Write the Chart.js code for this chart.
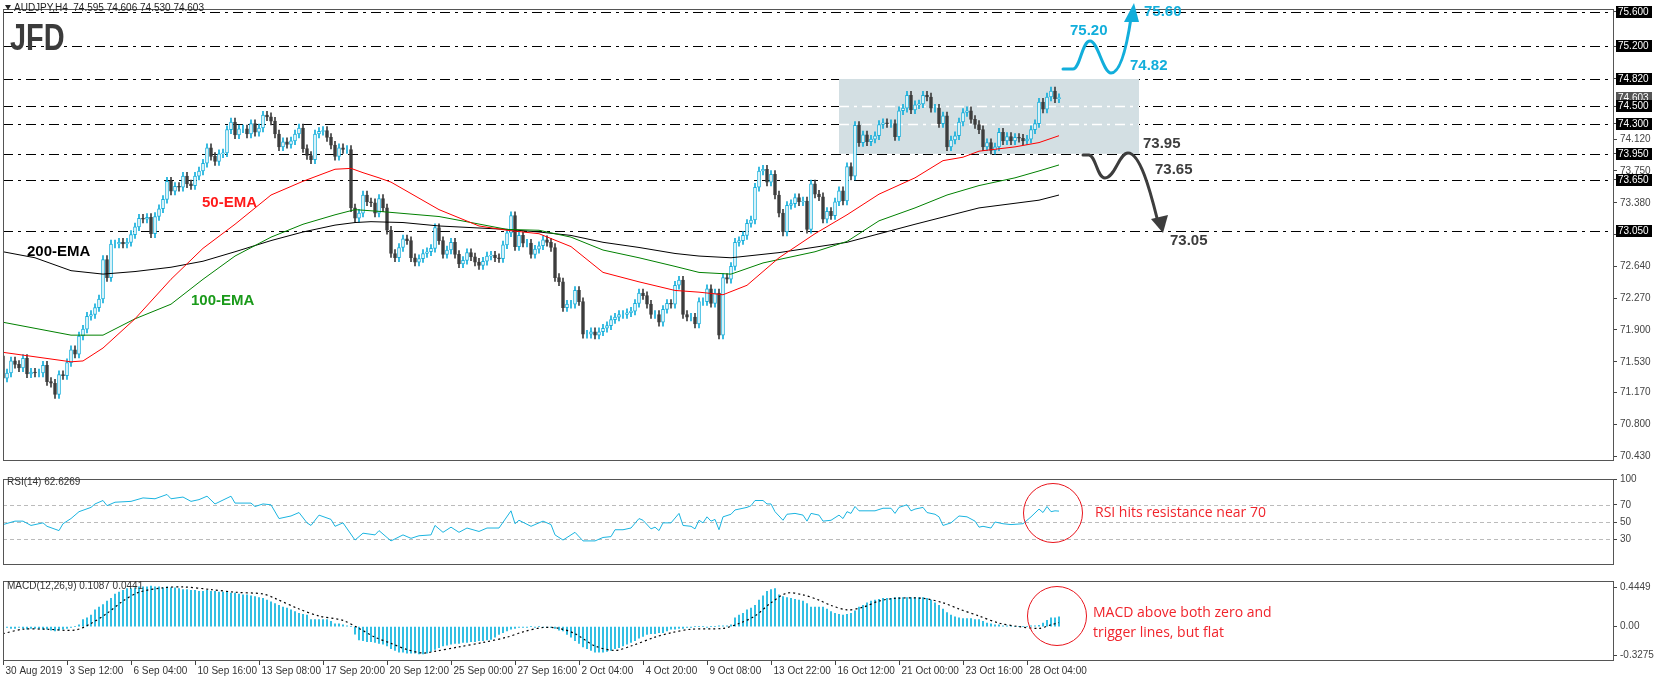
<!DOCTYPE html>
<html><head><meta charset="utf-8">
<style>body{margin:0;background:#fff;overflow:hidden;width:1655px;height:682px}canvas{position:absolute;left:0}</style>
<script src="https://cdn.jsdelivr.net/npm/chart.js@4/dist/chart.umd.min.js"></script>
</head><body>
<canvas id="main" width="1655" height="470" style="top:0"></canvas>
<canvas id="rsi" width="1655" height="104" style="top:470px"></canvas>
<canvas id="macd" width="1655" height="110" style="top:572px"></canvas>
<script>
// ---------- DATA ----------
const closes = [
71.34,71.40,71.54,71.50,71.46,71.57,71.39,71.41,71.40,71.40,
71.49,71.30,71.28,71.15,71.38,71.37,71.52,71.67,71.62,71.83,
71.91,72.06,72.08,72.16,72.26,72.72,72.51,72.90,72.90,72.92,
72.90,72.92,73.01,73.10,73.20,73.19,73.21,73.02,73.22,73.31,
73.42,73.63,73.515,73.57,73.56,73.69,73.60,73.58,73.69,73.75,
73.84,74.02,73.92,73.86,73.95,73.96,74.23,74.32,74.17,74.24,
74.24,74.18,74.30,74.20,74.25,74.40,74.38,74.33,74.18,74.03,
74.09,74.06,74.10,74.18,74.25,74.01,73.93,73.88,74.18,74.21,
74.22,74.14,74.05,73.92,74.02,74.00,74.00,73.32,73.20,73.26,
73.47,73.39,73.38,73.26,73.43,73.32,73.06,72.79,72.74,72.86,
72.96,72.94,72.74,72.69,72.73,72.79,72.81,72.85,73.09,72.94,
72.78,72.83,72.92,72.78,72.67,72.71,72.80,72.75,72.69,72.65,
72.70,72.76,72.77,72.74,72.73,72.89,73.03,73.23,72.87,73.00,
72.91,72.91,72.78,72.84,72.88,72.95,72.92,72.86,72.51,72.46,
72.16,72.20,72.20,72.36,72.23,71.85,71.85,71.88,71.84,71.88,
71.92,71.95,72.02,72.05,72.08,72.08,72.10,72.12,72.21,72.33,
72.30,72.20,72.08,72.08,71.99,72.14,72.21,72.20,72.42,72.48,
72.08,72.05,72.05,71.97,72.23,72.23,72.38,72.21,72.33,71.84,
72.51,72.49,72.64,72.92,72.94,73.00,73.14,73.18,73.56,73.75,
73.77,73.62,73.71,73.47,73.26,73.04,73.35,73.37,73.44,73.39,
73.40,73.07,73.60,73.48,73.45,73.19,73.28,73.23,73.39,73.52,
73.40,73.80,73.69,74.28,74.08,74.17,74.09,74.12,74.16,74.29,
74.31,74.30,74.30,74.15,74.45,74.48,74.63,74.46,74.52,74.53,
74.63,74.61,74.48,74.48,74.30,74.39,74.03,74.11,74.16,74.32,
74.43,74.45,74.35,74.29,74.23,74.03,74.08,73.99,74.03,74.20,
74.10,74.15,74.10,74.14,74.13,74.10,74.12,74.23,74.30,74.55,
74.47,74.61,74.68,74.59,74.603];
const firstOpen = 71.60;

const ema50Bars = [0,17,20,25,33,42,50,58,67,75,83,87,90,94,97,109,119,126,134,142,150,159,168,174,180,186,194,203,211,219,228,235,240,244,253,259,264];
const ema50Vals = [71.64,71.53,71.54,71.69,72.03,72.49,72.85,73.13,73.47,73.63,73.77,73.78,73.73,73.67,73.62,73.30,73.11,73.06,73.02,72.87,72.57,72.46,72.36,72.34,72.31,72.42,72.74,73.02,73.24,73.48,73.67,73.87,73.91,73.98,74.03,74.08,74.16];
const ema100Bars = [0,17,25,33,42,50,58,67,75,83,88,94,109,117,126,134,142,150,159,168,174,182,190,203,211,219,228,236,244,253,259,264];
const ema100Vals = [71.99,71.84,71.84,72.03,72.20,72.49,72.76,72.98,73.13,73.24,73.30,73.28,73.22,73.15,73.07,73.06,72.98,72.83,72.74,72.64,72.57,72.55,72.68,72.81,72.93,73.17,73.32,73.47,73.58,73.67,73.75,73.82];
const ema200Bars = [0,8,17,25,33,42,50,58,67,75,83,88,92,100,109,126,134,142,150,159,168,174,182,194,211,228,244,259,264];
const ema200Vals = [72.81,72.74,72.59,72.55,72.58,72.63,72.70,72.81,72.94,73.04,73.12,73.15,73.16,73.15,73.11,73.07,73.04,73.00,72.92,72.86,72.79,72.76,72.74,72.80,72.92,73.13,73.32,73.41,73.47];

const rsiBars = [0,3,5,7,10,11,14,15,17,19,22,23,25,26,28,32,35,38,41,42,45,47,49,51,53,57,58,62,63,65,67,69,72,74,76,77,79,82,83,85,88,90,93,94,97,100,102,104,107,108,110,112,114,116,119,121,124,127,128,129,132,135,137,138,140,143,145,148,150,152,153,155,157,159,160,162,163,164,165,167,169,170,172,173,174,175,176,177,178,179,180,182,183,186,187,188,190,191,192,193,195,196,198,200,201,202,204,205,207,209,210,211,212,213,214,216,218,220,222,223,224,226,227,228,230,231,233,234,235,237,239,241,243,244,245,247,248,250,252,255,257,259,260,261,262,263,264];
const rsiVals = [47,51,51,46,49,45,40,48,54,62,67,71,75,69,73,74,78,77,82,77,79,74,76,80,71,80,72,72,68,71,70,54,57,61,49,46,58,53,45,49,29,37,35,40,28,35,31,34,35,46,38,44,38,43,39,43,43,63,48,52,45,51,47,35,29,38,28,28,32,33,41,41,43,54,52,42,44,40,49,49,60,46,45,42,52,49,56,51,53,41,56,59,64,67,69,75,75,71,71,62,52,59,60,58,51,60,58,51,52,58,54,62,60,68,63,63,63,66,66,60,67,70,63,65,67,61,59,56,46,49,57,56,51,44,45,43,50,48,47,48,56,65,61,68,62,63,62.63];

const macdHist = [
-0.02,-0.01,-0.02,-0.02,-0.01,-0.02,-0.03,-0.02,-0.02,-0.02,-0.03,-0.03,-0.04,-0.05,-0.04,-0.03,-0.02,-0.01,0.0,
0.02,0.08,0.10,0.13,0.19,0.22,0.25,0.29,0.32,0.37,0.39,0.41,0.43,0.43,0.44,
0.45,0.45,0.45,0.46,0.45,0.45,0.44,0.45,0.44,0.44,0.43,0.42,0.42,0.41,
0.41,0.40,0.40,0.41,0.40,0.40,0.39,0.39,0.39,0.38,0.38,0.37,0.36,
0.36,0.35,0.34,0.33,0.32,0.30,0.28,0.26,0.24,0.22,0.21,0.19,0.17,0.15,0.14,
0.13,0.08,0.08,0.08,0.08,0.08,0.06,0.03,0.03,0.02,0.01,0.0,
-0.085,-0.15,-0.16,-0.17,-0.17,-0.18,-0.19,-0.2,-0.22,-0.25,-0.27,-0.29,
-0.29,-0.30,-0.30,-0.30,-0.31,-0.31,-0.30,-0.28,-0.26,-0.24,-0.22,-0.21,
-0.20,-0.19,-0.19,-0.18,-0.18,-0.17,-0.17,-0.16,-0.16,-0.15,-0.145,-0.12,-0.09,
-0.07,-0.05,-0.03,-0.02,-0.01,-0.01,-0.01,0.0,-0.01,0.0,-0.01,-0.01,-0.01,-0.02,-0.04,
-0.05,-0.09,-0.12,-0.16,-0.19,-0.23,-0.25,-0.27,-0.29,-0.29,-0.29,-0.28,-0.27,-0.25,-0.24,
-0.22,-0.2,-0.18,-0.16,-0.13,-0.11,-0.09,-0.08,-0.08,-0.07,-0.07,-0.05,-0.03,-0.03,-0.02,
-0.02,-0.01,-0.01,0.0,0.0,0.0,-0.01,0.0,0.0,0.01,0.01,0.01,0.02,0.10,0.13,
0.15,0.19,0.21,0.24,0.30,0.35,0.40,0.42,0.43,0.36,0.34,0.33,0.32,0.31,0.30,
0.29,0.26,0.22,0.22,0.22,0.22,0.20,0.17,0.15,0.14,0.13,0.14,0.15,0.18,0.22,
0.24,0.27,0.29,0.30,0.31,0.32,0.32,0.32,0.33,0.33,0.33,0.33,0.33,0.33,0.33,
0.33,0.32,0.30,0.27,0.24,0.20,0.16,0.13,0.11,0.10,0.09,0.09,0.09,0.08,0.08,
0.06,0.04,0.03,0.02,0.02,0.01,0.01,0.01,0.0,0.0,0.0,0.0,0.01,0.01,0.015,
0.04,0.07,0.10,0.10,0.11];
const signalBars = [0,5,11,18,22,26,30,34,40,45,52,58,65,68,74,79,85,89,93,97,101,105,108,114,120,126,130,135,139,143,148,153,157,163,167,172,180,184,188,192,196,200,204,207,211,215,219,223,230,235,239,244,249,254,259,262,264];
const signalVals = [-0.08,-0.03,-0.03,-0.04,0.035,0.15,0.29,0.39,0.44,0.45,0.42,0.39,0.37,0.32,0.20,0.12,0.07,-0.02,-0.12,-0.19,-0.26,-0.30,-0.28,-0.23,-0.18,-0.12,-0.06,-0.01,-0.02,-0.08,-0.22,-0.27,-0.22,-0.12,-0.07,-0.03,-0.02,0.035,0.12,0.27,0.38,0.36,0.30,0.24,0.19,0.22,0.29,0.32,0.32,0.27,0.20,0.12,0.04,0.0,-0.02,0.02,0.045];

const priceTicks = [75.6,75.2,74.82,74.5,74.3,74.12,73.95,73.75,73.65,73.38,73.01,72.64,72.27,71.90,71.53,71.17,70.80,70.43];
const levels = [75.6,75.2,74.82,74.5,74.3,73.95,73.65,73.05];
const lastPrice = 74.603;
const rsiTicks = [100,70,50,30];
const rsiGuides = [70,50,30];
const macdTicks = [0.4449,0,-0.3275];
const macdTickLabels = ['0.4449','0.00','-0.3275'];
const dateBars = [0,16,32,48,64,80,96,112,128,144,160,176,192,208,224,240,256];
const dateLabels = ['30 Aug 2019','3 Sep 12:00','6 Sep 04:00','10 Sep 16:00','13 Sep 08:00','17 Sep 20:00','20 Sep 12:00','25 Sep 00:00','27 Sep 16:00','2 Oct 04:00','4 Oct 20:00','9 Oct 08:00','13 Oct 22:00','16 Oct 12:00','21 Oct 00:00','23 Oct 16:00','28 Oct 04:00'];
const boxRange = {b0:209, b1:284, lo:73.95, hi:74.82};

// ---------- HELPERS ----------
const XMIN=0, XMAX=402.75;
const CYAN='#12aedb', DARK='#3d3d3d';
const FONT='"Liberation Sans", sans-serif';
const opens = closes.map((c,i)=> i===0 ? firstOpen : closes[i-1]);
const isBull = closes.map((c,i)=> c>=opens[i]);
const WICK = 0.045;
const pts = (bs,vs)=> bs.map((b,i)=>({x:b,y:vs[i]}));
const xScale = {type:'linear',min:XMIN,max:XMAX,display:false,offset:false};
const base = {responsive:false,animation:false,events:[],plugins:{legend:{display:false},tooltip:{enabled:false}}};
function rightAxis(min,max,ticks,fmt){
  return {position:'right',min,max,
    afterFit:s=>{s.width=41;},
    afterBuildTicks:s=>{s.ticks=ticks.map(v=>({value:v}));},
    ticks:{autoSkip:false,font:{family:FONT,size:10},color:'#444',padding:3,callback:fmt},
    grid:{drawOnChartArea:false,tickLength:3,color:'#444'},border:{display:false}};
}
function frame(ctx,ca){ctx.save();ctx.strokeStyle='#555';ctx.lineWidth=1;ctx.strokeRect(ca.left+0.5,ca.top+0.5,ca.right-ca.left-1,ca.bottom-ca.top-1);ctx.restore();}

// ---------- MAIN ----------
const mainPlugin = {id:'mainp',
  beforeDatasetsDraw(chart){
    const {ctx,chartArea:ca,scales:{x,y}}=chart;
    ctx.save();
    ctx.lineWidth=1;ctx.setLineDash([10,5,3,5]);ctx.strokeStyle='#000';
    levels.forEach(v=>{const py=Math.round(y.getPixelForValue(v))+0.5;ctx.beginPath();ctx.moveTo(ca.left,py);ctx.lineTo(ca.right,py);ctx.stroke();});
    ctx.setLineDash([]);
    const bx0=x.getPixelForValue(boxRange.b0), bx1=x.getPixelForValue(boxRange.b1);
    const by0=y.getPixelForValue(boxRange.hi), by1=y.getPixelForValue(boxRange.lo);
    ctx.fillStyle='#d3dfe3';ctx.fillRect(bx0,by0,bx1-bx0,by1-by0);
    ctx.strokeStyle='#fff';ctx.lineWidth=1.5;ctx.setLineDash([10,5,3,5]);
    levels.filter(v=>v>boxRange.lo&&v<boxRange.hi).forEach(v=>{const py=Math.round(y.getPixelForValue(v))+0.5;ctx.beginPath();ctx.moveTo(bx0,py);ctx.lineTo(bx1,py);ctx.stroke();});
    ctx.restore();
  },
  afterDraw(chart){
    const {ctx,chartArea:ca,scales:{y}}=chart;
    frame(ctx,ca);
    ctx.save();
    ctx.font='10px '+FONT;ctx.textBaseline='middle';ctx.textAlign='left';
    const boxLbl=(v,bg)=>{const py=Math.round(y.getPixelForValue(v));ctx.fillStyle=bg;ctx.fillRect(ca.right+2,py-6,36,12);ctx.fillStyle='#fff';ctx.fillText(v.toFixed(3),ca.right+4,py+0.5);};
    boxLbl(lastPrice,'#555');
    levels.forEach(v=>boxLbl(v,'#000'));
    ctx.fillStyle='#222';ctx.font='10px '+FONT;ctx.fillText('AUDJPY,H4  74.595 74.606 74.530 74.603',14,8);
    ctx.beginPath();ctx.moveTo(5,5);ctx.lineTo(11,5);ctx.lineTo(8,10);ctx.closePath();ctx.fill();
    ctx.save();ctx.translate(10,50);ctx.scale(0.78,1);ctx.fillStyle='#3b3b3b';ctx.font='bold 37px "Liberation Sans", sans-serif';ctx.textBaseline='alphabetic';ctx.fillText('JFD',0,0);ctx.restore();
    ctx.font='bold 15px "Liberation Sans", sans-serif';
    ctx.fillStyle='#000';ctx.fillText('200-EMA',27,252);
    ctx.fillStyle='#ff1a1a';ctx.fillText('50-EMA',202,203);
    ctx.fillStyle='#1a9a1a';ctx.fillText('100-EMA',191,301);
    ctx.fillStyle=CYAN;ctx.fillText('75.20',1070,31);ctx.fillText('75.60',1144,12);ctx.fillText('74.82',1130,66);
    ctx.fillStyle=DARK;ctx.fillText('73.95',1143,144);ctx.fillText('73.65',1155,170);ctx.fillText('73.05',1170,241);
    ctx.lineWidth=3;ctx.lineCap='round';ctx.strokeStyle=CYAN;ctx.fillStyle=CYAN;
    ctx.beginPath();ctx.moveTo(1063,69);ctx.lineTo(1073,69);
    ctx.bezierCurveTo(1080,69,1082,41,1090,41);
    ctx.bezierCurveTo(1098,41,1103,73,1111,73);
    ctx.bezierCurveTo(1121,73,1127,45,1131,18);ctx.stroke();
    ctx.beginPath();ctx.moveTo(1134,3);ctx.lineTo(1124,22);ctx.lineTo(1139,22);ctx.closePath();ctx.fill();
    ctx.strokeStyle=DARK;ctx.fillStyle=DARK;
    ctx.beginPath();ctx.moveTo(1083,155);ctx.lineTo(1089,155);
    ctx.bezierCurveTo(1096,156,1097,178,1105,178);
    ctx.bezierCurveTo(1115,178,1119,153,1128,153);
    ctx.bezierCurveTo(1140,153,1150,190,1157,218);ctx.stroke();
    ctx.beginPath();ctx.moveTo(1163,233);ctx.lineTo(1151,219);ctx.lineTo(1168,215);ctx.closePath();ctx.fill();
    ctx.restore();
  }};

new Chart(document.getElementById('main'),{
  type:'bar',
  data:{datasets:[
    {type:'line',data:pts(ema50Bars,ema50Vals),borderColor:'#ff0000',borderWidth:1,pointRadius:0,tension:0},
    {type:'line',data:pts(ema100Bars,ema100Vals),borderColor:'#008000',borderWidth:1,pointRadius:0,tension:0},
    {type:'line',data:pts(ema200Bars,ema200Vals),borderColor:'#000',borderWidth:1,pointRadius:0,tension:0},
    {data:closes.map((c,i)=>({x:i,y:[opens[i],c]})),grouped:false,barThickness:3,borderWidth:1,borderSkipped:false,
      backgroundColor:isBull.map(b=>b?'#fff':DARK),borderColor:isBull.map(b=>b?CYAN:DARK)},
    {data:closes.map((c,i)=>({x:i,y:[Math.min(c,opens[i])-WICK,Math.max(c,opens[i])+WICK]})),grouped:false,barThickness:1,
      backgroundColor:isBull.map(b=>b?CYAN:DARK)}
  ]},
  options:{...base,layout:{padding:{left:3,top:0,bottom:1,right:0}},
    scales:{x:xScale,y:rightAxis(70.376,75.634,priceTicks,v=>v.toFixed(3))}},
  plugins:[mainPlugin]
});

// ---------- RSI ----------
new Chart(document.getElementById('rsi'),{
  type:'line',
  data:{datasets:[{data:pts(rsiBars,rsiVals),borderColor:'#1ab4e0',borderWidth:1,pointRadius:0,tension:0}]},
  options:{...base,layout:{padding:{left:3,top:2,bottom:2,right:0}},
    scales:{x:xScale,y:rightAxis(0,100,rsiTicks,v=>String(v))}},
  plugins:[{id:'rsip',
    beforeDatasetsDraw(chart){const {ctx,chartArea:ca,scales:{y}}=chart;ctx.save();ctx.strokeStyle='#bbb';ctx.setLineDash([4,3]);ctx.lineWidth=1;
      rsiGuides.forEach(v=>{const py=Math.round(y.getPixelForValue(v))+0.5;ctx.beginPath();ctx.moveTo(ca.left,py);ctx.lineTo(ca.right,py);ctx.stroke();});ctx.restore();},
    afterDraw(chart){const {ctx,chartArea:ca}=chart;frame(ctx,ca);ctx.save();
      ctx.fillStyle='#333';ctx.font='10px '+FONT;ctx.textBaseline='middle';ctx.fillText('RSI(14) 62.6269',7,12);
      ctx.strokeStyle='#e8141c';ctx.lineWidth=1;ctx.beginPath();ctx.arc(1053,43,29.5,0,Math.PI*2);ctx.stroke();
      ctx.fillStyle='#f0242c';ctx.font='14px "Open Sans", sans-serif';ctx.fillText('RSI hits resistance near 70',1095,43);
      ctx.restore();}}]
});

// ---------- MACD ----------
new Chart(document.getElementById('macd'),{
  type:'bar',
  data:{datasets:[
    {type:'line',data:pts(signalBars,signalVals),borderColor:'#000',borderWidth:1.2,borderDash:[2,3],pointRadius:0,tension:0.3},
    {data:macdHist.map((v,i)=>({x:i,y:v})),grouped:false,barThickness:1,backgroundColor:'#0ab2de'}
  ]},
  options:{...base,layout:{padding:{left:3,top:2,bottom:21,right:0}},
    scales:{x:xScale,y:rightAxis(-0.39,0.517,macdTicks,(v,i)=>macdTickLabels[i])}},
  plugins:[{id:'macdp',
    afterDraw(chart){const {ctx,chartArea:ca,scales:{x}}=chart;frame(ctx,ca);ctx.save();
      ctx.fillStyle='#333';ctx.font='10px '+FONT;ctx.textBaseline='middle';ctx.fillText('MACD(12,26,9) 0.1087 0.0441',7,14);
      ctx.strokeStyle='#444';ctx.lineWidth=1;ctx.textAlign='left';
      dateBars.forEach((b,i)=>{const px=Math.round(x.getPixelForValue(b))+0.5;ctx.beginPath();ctx.moveTo(px,ca.bottom);ctx.lineTo(px,ca.bottom+4);ctx.stroke();
        ctx.fillText(dateLabels[i],px+2,ca.bottom+10);});
      ctx.strokeStyle='#e8141c';ctx.beginPath();ctx.arc(1057,44,29.5,0,Math.PI*2);ctx.stroke();
      ctx.fillStyle='#f0242c';ctx.font='14px "Open Sans", sans-serif';ctx.fillText('MACD above both zero and',1093,41);ctx.fillText('trigger lines, but flat',1093,61);
      ctx.restore();}}]
});
</script></body></html>
